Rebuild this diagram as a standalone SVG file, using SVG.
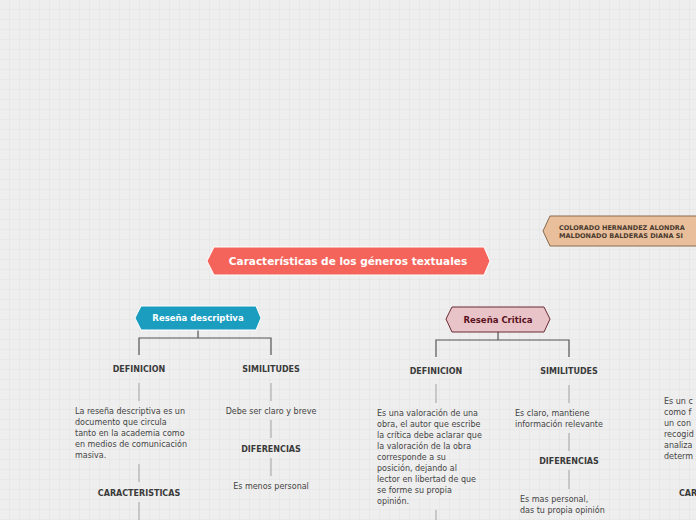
<svg xmlns="http://www.w3.org/2000/svg" width="696" height="520" viewBox="0 0 696 520">
<defs>
<pattern id="g" width="10" height="10" patternUnits="userSpaceOnUse"><path d="M10 0V10H0" fill="none" stroke="#e2e2e2" stroke-width="1"/></pattern>
<style>
text{font-family:"DejaVu Sans",Verdana,sans-serif}
.h{font-size:8px;font-weight:bold;fill:#3a3a3a;text-anchor:middle}
.t{font-size:8px;fill:#444}
.c{text-anchor:middle}
.l{stroke:#bbb;stroke-width:1.5;fill:none}
.k{stroke:#555;stroke-width:1.2;fill:none}
</style>
</defs>
<rect width="696" height="520" fill="#eeeeee"/>
<rect width="696" height="520" fill="url(#g)"/>
<g id="connectors">
<path class="k" d="M198 330V338M139 355V338H271V355"/>
<path class="k" d="M498 332V340M436 357V340H569V357"/>
<path class="l" d="M139 383V401M271 383V401M271 420V438M271 458V476M139 464V482M139 502V520"/>
<path class="l" d="M436 384V403M569 385V403M569 433V451M569 470V489M436 510V520M569 470V489"/>
</g>
<g id="title"><polygon points="214,247 484,247 490,261 484,275 214,275 207,261" fill="#f4645a" stroke="#fff" stroke-width="1"/>
<text x="348" y="265" class="c" style="font-size:10.5px;font-weight:bold;fill:#fff">Características de los géneros textuales</text></g>
<g id="authors"><polygon points="550,216 700,216 700,246 550,246 543,231" fill="#e8bf9a" stroke="#8a6a50"/>
<text x="559" y="230" style="font-size:6.5px;font-weight:bold;fill:#4a3a30">COLORADO HERNANDEZ ALONDRA</text>
<text x="559" y="238" style="font-size:6.5px;font-weight:bold;fill:#4a3a30">MALDONADO BALDERAS DIANA SI</text></g>
<g id="desc"><polygon points="141,306 256,306 261,318 256,330 141,330 135,318" fill="#1a9dbf" stroke="#fff"/>
<text x="198" y="321" class="c" style="font-size:8.5px;font-weight:bold;fill:#fff">Reseña descriptiva</text></g>
<g id="critica"><polygon points="452,307 544,307 550,319 544,332 452,332 446,319" fill="#e8c4c8" stroke="#6b2a35"/>
<text x="498" y="323" class="c" style="font-size:8.5px;font-weight:bold;fill:#5a1020">Reseña Critica</text></g>
<g id="d-def"><text x="139" y="372" class="h">DEFINICION</text></g>
<g id="d-deftext"><text class="t" x="75" y="414">La reseña descriptiva es un</text><text class="t" x="75" y="425">documento que circula</text><text class="t" x="75" y="436">tanto en la academia como</text><text class="t" x="75" y="447">en medios de comunicación</text><text class="t" x="75" y="458">masiva.</text></g>
<g id="d-car"><text x="139" y="496" class="h">CARACTERISTICAS</text></g>
<g id="d-sim"><text x="271" y="372" class="h">SIMILITUDES</text></g>
<g id="d-simtext"><text x="271" y="414" class="t c">Debe ser claro y breve</text></g>
<g id="d-dif"><text x="271" y="452" class="h">DIFERENCIAS</text></g>
<g id="d-diftext"><text x="271" y="489" class="t c">Es menos personal</text></g>
<g id="c-def"><text x="436" y="374" class="h">DEFINICION</text></g>
<g id="c-deftext"><text class="t" x="377" y="416">Es una valoración de una</text><text class="t" x="377" y="427">obra, el autor que escribe</text><text class="t" x="377" y="438">la crítica debe aclarar que</text><text class="t" x="377" y="449">la valoración de la obra</text><text class="t" x="377" y="460">corresponde a su</text><text class="t" x="377" y="471">posición, dejando al</text><text class="t" x="377" y="482">lector en libertad de que</text><text class="t" x="377" y="493">se forme su propia</text><text class="t" x="377" y="504">opinión.</text></g>
<g id="c-sim"><text x="569" y="374" class="h">SIMILITUDES</text></g>
<g id="c-simtext"><text class="t" x="515" y="416">Es claro, mantiene</text><text class="t" x="515" y="427">información relevante</text></g>
<g id="c-dif"><text x="569" y="464" class="h">DIFERENCIAS</text></g>
<g id="c-diftext"><text class="t" x="520" y="502">Es mas personal,</text><text class="t" x="520" y="513">das tu propia opinión</text></g>
<g id="r-text"><text class="t" x="664" y="404">Es un c</text><text class="t" x="664" y="415">como f</text><text class="t" x="664" y="426">un con</text><text class="t" x="664" y="437">recogid</text><text class="t" x="664" y="448">analiza</text><text class="t" x="664" y="459">determ</text></g>
<g id="r-car"><text x="679" y="496" style="font-size:8px;font-weight:bold;fill:#3a3a3a">CAR</text></g>
</svg>
